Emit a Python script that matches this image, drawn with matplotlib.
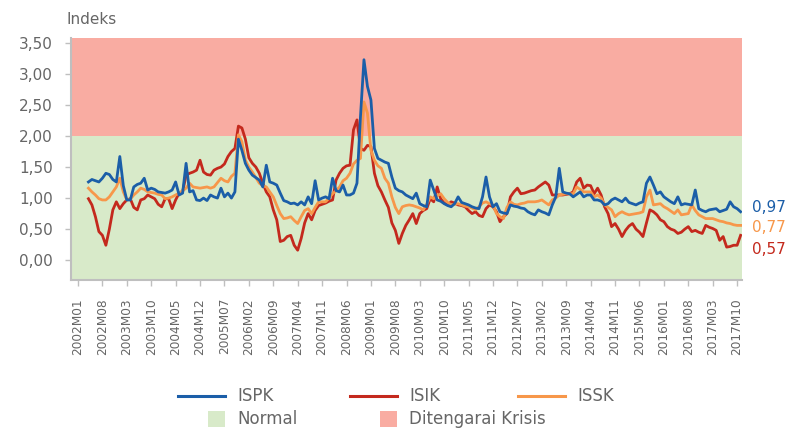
import matplotlib.pyplot as plt
from matplotlib.lines import Line2D
from matplotlib.patches import Rectangle
import numpy as np

# Data: monthly index values, first point = 2002M04
start_month = 3  # months since 2002M01

ispk = [1.26, 1.30, 1.28, 1.26, 1.32, 1.40, 1.38, 1.30, 1.26, 1.67, 1.20, 0.97,
        0.97, 1.18, 1.22, 1.24, 1.32, 1.13, 1.16, 1.14, 1.10, 1.09, 1.08, 1.10,
        1.13, 1.26, 1.05, 1.08, 1.56, 1.10, 1.12, 0.97, 0.96, 1.00, 0.96, 1.05,
        1.02, 1.00, 1.16, 1.02, 1.08, 1.00, 1.10, 1.95, 1.77, 1.56, 1.45, 1.37,
        1.33, 1.29, 1.18, 1.53, 1.26, 1.24, 1.21, 1.08, 0.96, 0.94, 0.91, 0.92,
        0.89, 0.94, 0.89, 1.02, 0.91, 1.28, 0.97, 1.00, 1.02, 0.99, 1.32, 1.12,
        1.10, 1.21, 1.05, 1.05, 1.08, 1.24, 2.31, 3.23, 2.80, 2.58, 1.80, 1.64,
        1.61, 1.58, 1.56, 1.34, 1.16, 1.12, 1.10, 1.05, 1.02, 0.99, 1.08, 0.91,
        0.88, 0.86, 1.29, 1.13, 0.97, 0.95, 0.91, 0.88, 0.86, 0.91, 1.02, 0.93,
        0.91, 0.89, 0.86, 0.84, 0.83, 1.02, 1.34, 1.02, 0.86, 0.91, 0.78, 0.76,
        0.75, 0.89, 0.87, 0.86, 0.84, 0.83, 0.78, 0.75, 0.73, 0.81, 0.78, 0.76,
        0.73, 0.89, 1.02, 1.48, 1.10, 1.08, 1.07, 1.02, 1.06, 1.10, 1.02, 1.05,
        1.05, 0.97, 0.97, 0.95, 0.89, 0.91, 0.97, 1.00, 0.97, 0.94, 1.00, 0.93,
        0.91, 0.89, 0.92, 0.94, 1.24, 1.34, 1.21, 1.07, 1.10, 1.02, 0.98, 0.94,
        0.91, 1.02, 0.89, 0.91, 0.90, 0.89, 1.13, 0.83, 0.80, 0.78, 0.81, 0.82,
        0.83, 0.78, 0.80, 0.82, 0.94, 0.86, 0.83, 0.78]

isik = [0.99, 0.89, 0.70, 0.46, 0.40, 0.24, 0.50, 0.81, 0.94, 0.83, 0.91, 0.97,
        0.99, 0.85, 0.81, 0.97, 0.99, 1.05, 1.02, 0.99, 0.90, 0.86, 0.99, 0.99,
        0.83, 0.97, 1.08, 1.10, 1.37, 1.40, 1.42, 1.45, 1.61, 1.42, 1.38, 1.37,
        1.45, 1.48, 1.50, 1.55, 1.67, 1.75, 1.80, 2.16, 2.13, 1.95, 1.65, 1.56,
        1.50, 1.40, 1.24, 1.10, 1.02, 0.81, 0.65, 0.30, 0.32, 0.38, 0.40, 0.24,
        0.16, 0.35, 0.60, 0.75, 0.65, 0.80, 0.88, 0.90, 0.92, 0.95, 0.97, 1.29,
        1.40, 1.48, 1.52, 1.53, 2.10, 2.26, 1.80, 1.77, 1.85, 1.83, 1.40, 1.20,
        1.10, 0.97, 0.85, 0.60, 0.48, 0.27, 0.43, 0.56, 0.65, 0.75, 0.59, 0.75,
        0.80, 0.83, 0.99, 0.94, 1.18, 0.99, 0.92, 0.89, 0.94, 0.92, 0.89, 0.88,
        0.86, 0.80, 0.75, 0.78, 0.72, 0.70, 0.83, 0.89, 0.86, 0.78, 0.62, 0.70,
        0.75, 1.02, 1.10, 1.16, 1.07, 1.08, 1.10, 1.12, 1.13, 1.18, 1.22, 1.26,
        1.21, 1.05, 1.05, 1.05, 1.05, 1.06, 1.07, 1.10, 1.26, 1.32, 1.16, 1.21,
        1.20, 1.07, 1.16, 1.05, 0.86, 0.75, 0.54, 0.59, 0.50, 0.38, 0.48, 0.55,
        0.59, 0.50, 0.45, 0.38, 0.60, 0.81, 0.78, 0.73, 0.65, 0.62, 0.54, 0.50,
        0.48, 0.43, 0.45, 0.50, 0.54, 0.46, 0.48, 0.45, 0.43, 0.56, 0.53, 0.51,
        0.48, 0.32, 0.38, 0.21, 0.22, 0.24, 0.24, 0.40]

issk = [1.16, 1.10, 1.05, 0.99, 0.97, 0.97, 1.02, 1.10, 1.18, 1.32, 1.10, 0.97,
        0.98, 1.05, 1.10, 1.16, 1.14, 1.10, 1.09, 1.08, 1.06, 1.05, 0.99, 1.00,
        1.02, 1.05, 1.08, 1.12, 1.16, 1.24, 1.18, 1.17, 1.16, 1.17, 1.18, 1.16,
        1.18, 1.25, 1.32, 1.28, 1.26, 1.35, 1.40, 2.02, 1.91, 1.61, 1.50, 1.42,
        1.33, 1.24, 1.20, 1.18, 1.10, 1.02, 0.88, 0.75, 0.67, 0.68, 0.70, 0.64,
        0.59, 0.70, 0.80, 0.83, 0.75, 0.85, 0.94, 0.94, 0.94, 1.00, 1.07, 1.12,
        1.18, 1.28, 1.32, 1.40, 1.55, 1.61, 1.64, 2.55, 2.37, 1.77, 1.61, 1.52,
        1.48, 1.32, 1.24, 1.02, 0.85, 0.75, 0.86, 0.88, 0.89, 0.88, 0.86, 0.84,
        0.81, 0.90, 1.02, 0.99, 1.04, 1.07, 0.99, 0.93, 0.89, 0.90, 0.91, 0.89,
        0.87, 0.86, 0.84, 0.81, 0.86, 0.92, 0.94, 0.91, 0.89, 0.75, 0.70, 0.67,
        0.85, 0.94, 0.90, 0.89, 0.91, 0.92, 0.94, 0.94, 0.94, 0.95, 0.97, 0.93,
        0.89, 0.97, 1.00, 1.05, 1.06, 1.07, 1.07, 1.07, 1.18, 1.14, 1.10, 1.10,
        1.10, 1.02, 1.05, 1.00, 0.89, 0.85, 0.81, 0.70, 0.75, 0.78, 0.75, 0.73,
        0.74, 0.75, 0.76, 0.78, 1.02, 1.13, 0.89, 0.90, 0.91, 0.86, 0.83, 0.79,
        0.75, 0.81, 0.73, 0.74, 0.75, 0.89, 0.80, 0.73, 0.70, 0.67, 0.67, 0.67,
        0.65, 0.63, 0.62, 0.60, 0.59, 0.57, 0.56, 0.56]

last_labels = ['0,97', '0,77', '0,57']
series_names = ['ISPK', 'ISIK', 'ISSK']
zone_names = ['Normal', 'Ditengarai Krisis']
crisis_level = 2.0

# Colours
c_blue = '#1b5ea8'
c_red = '#c4291d'
c_orange = '#f7974a'
c_normal = '#d8eac9'
c_krisis = '#f9aca2'
c_text = '#666666'
c_axis = '#bfbfbf'

months = np.arange(start_month, start_month + len(ispk))
tick_pos = np.arange(0, 190, 7)
tick_lab = ['%dM%02d' % (2002 + m // 12, m % 12 + 1) for m in tick_pos]

fig = plt.figure(figsize=(7.89, 4.28), dpi=100)
ax = fig.add_axes([71 / 789, 1 - 280 / 428, 671 / 789, 242 / 428])

ymin, ymax = -0.32, 3.58
ax.axhspan(ymin, crisis_level, color=c_normal, zorder=0, lw=0)
ax.axhspan(crisis_level, ymax, color=c_krisis, zorder=0, lw=0)

ax.plot(months, isik, color=c_red, lw=2, zorder=3)
ax.plot(months, issk, color=c_orange, lw=2, zorder=3)
ax.plot(months, ispk, color=c_blue, lw=2, zorder=4)

ax.set_xlim(-2, 190.4)
ax.set_ylim(ymin, ymax)
ax.set_yticks(np.arange(0, 3.51, 0.5))
ax.set_yticklabels([('%.2f' % v).replace('.', ',') for v in np.arange(0, 3.51, 0.5)])
ax.set_xticks(tick_pos)
ax.set_xticklabels(tick_lab, rotation=90)

for s in ['top', 'right']:
    ax.spines[s].set_visible(False)
for s in ['left', 'bottom']:
    ax.spines[s].set_color(c_axis)
    ax.spines[s].set_linewidth(1.5)
ax.tick_params(axis='y', colors=c_axis, labelcolor=c_text, labelsize=11,
               length=4, width=1, pad=9)
ax.tick_params(axis='x', colors=c_axis, labelcolor=c_text, labelsize=8.7,
               length=4, width=1, pad=9)

fig.text(67 / 789, 1 - 20 / 428, 'Indeks', color=c_text, fontsize=11, va='center')

# end labels
for lab, col, ypx in zip(last_labels, [c_blue, c_orange, c_red], [207, 228, 250]):
    fig.text(752 / 789, 1 - ypx / 428, lab, color=col, fontsize=11, va='center')

# legend (drawn by hand)
for name, col, x0 in zip(series_names, [c_blue, c_red, c_orange], [178, 350, 518]):
    y = 1 - 396 / 428
    fig.add_artist(Line2D([x0 / 789, (x0 + 47) / 789], [y, y], color=col, lw=2.2))
    fig.text((x0 + 59) / 789, y, name, color=c_text, fontsize=12, va='center')

for name, col, x0 in zip(zone_names, [c_normal, c_krisis], [208, 380]):
    y = 1 - 419 / 428
    fig.add_artist(Rectangle((x0 / 789, y - 8 / 428), 17 / 789, 16 / 428,
                             facecolor=col, edgecolor='none'))
    fig.text((x0 + 29) / 789, y, name, color=c_text, fontsize=12, va='center')

fig.savefig('out.png', dpi=100)
